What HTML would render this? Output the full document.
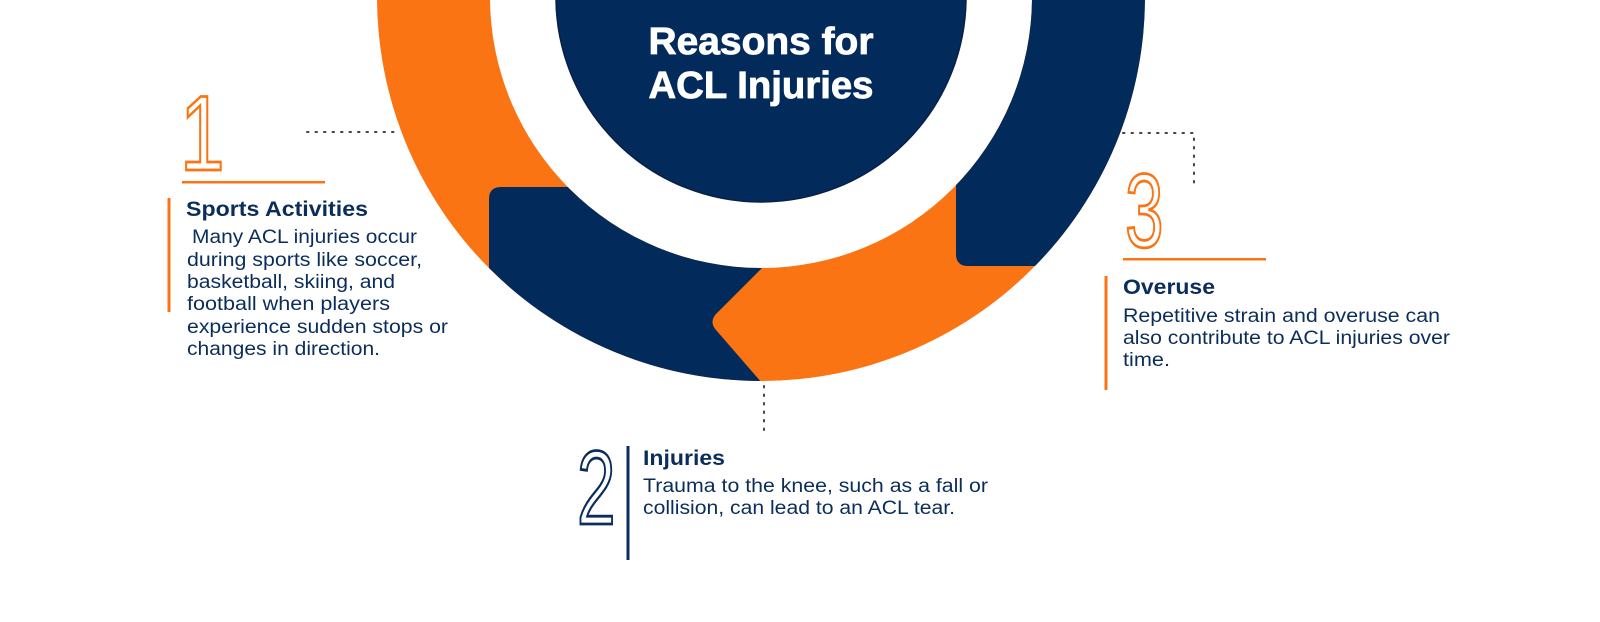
<!DOCTYPE html>
<html><head><meta charset="utf-8"><style>
html,body{margin:0;padding:0;background:#fff;width:1600px;height:622px;overflow:hidden}
svg{display:block}
.t{font-family:"Liberation Sans",sans-serif;font-weight:bold;fill:#0b2d5b;font-size:21.5px}
.b{font-family:"Liberation Sans",sans-serif;fill:#0b2d5b;font-size:19px}
.n{font-family:"Liberation Sans",sans-serif;fill:#fff;stroke-width:2.4px}
</style></head><body>
<svg width="1600" height="622" viewBox="0 0 1600 622" xmlns="http://www.w3.org/2000/svg">
<defs>
<clipPath id="ring"><path fill-rule="evenodd" clip-rule="evenodd" d="M377,-3 A384,384 0 1 0 1145,-3 A384,384 0 1 0 377,-3 Z M490,-3 A271,271 0 1 1 1032,-3 A271,271 0 1 1 490,-3 Z"/></clipPath>
</defs>
<g clip-path="url(#ring)">
<rect x="300" y="-10" width="900" height="420" fill="#fb7414"/>
<path d="M956,-10 L1200,-10 L1200,266 L968,266 Q956,266 956,254 Z" fill="#022b5c"/>
<path d="M489,199 Q489,187 501,187 L790,187 L762,268 L716,314 Q709,322 716,330 L762,383 L489,420 Z" fill="#022b5c"/>
</g>
<circle cx="761" cy="-3" r="205" fill="#022b5c" stroke="#0a1f45" stroke-width="1.5"/>
<text x="761" y="54" text-anchor="middle" class="t" style="fill:#fff;font-size:38px;stroke:#fff;stroke-width:0.8px" textLength="225" lengthAdjust="spacingAndGlyphs">Reasons for</text>
<text x="761" y="98" text-anchor="middle" class="t" style="fill:#fff;font-size:38px;stroke:#fff;stroke-width:0.8px" textLength="225" lengthAdjust="spacingAndGlyphs">ACL Injuries</text>

<line x1="307" y1="132" x2="400" y2="132" stroke="#444" stroke-width="2" stroke-dasharray="1.5 7" stroke-linecap="round"/>
<path d="M1123,133 L1194,133 L1194,188" fill="none" stroke="#444" stroke-width="2" stroke-dasharray="1.5 7" stroke-linecap="round"/>
<line x1="764" y1="386" x2="764" y2="432" stroke="#444" stroke-width="2" stroke-dasharray="1.5 7" stroke-linecap="round"/>

<text class="n" x="0" y="0" font-size="107" stroke="#fb7414" transform="translate(180,170) scale(0.75,1)" vector-effect="non-scaling-stroke">1</text>
<rect x="182" y="181" width="143" height="2.5" fill="#fb7414"/>
<rect x="167.5" y="198" width="3" height="114" fill="#fb7414"/>
<text class="t" x="186" y="216" textLength="182" lengthAdjust="spacingAndGlyphs">Sports Activities</text>
<text class="b" x="192" y="243" textLength="225" lengthAdjust="spacingAndGlyphs">Many ACL injuries occur</text>
<text class="b" x="187" y="266" textLength="235" lengthAdjust="spacingAndGlyphs">during sports like soccer,</text>
<text class="b" x="187" y="288" textLength="208" lengthAdjust="spacingAndGlyphs">basketball, skiing, and</text>
<text class="b" x="187" y="310" textLength="203" lengthAdjust="spacingAndGlyphs">football when players</text>
<text class="b" x="187" y="333" textLength="261" lengthAdjust="spacingAndGlyphs">experience sudden stops or</text>
<text class="b" x="187" y="355" textLength="193" lengthAdjust="spacingAndGlyphs">changes in direction.</text>

<text class="n" x="0" y="0" font-size="105" stroke="#fb7414" transform="translate(1125,247) scale(0.66,1)" vector-effect="non-scaling-stroke">3</text>
<rect x="1123" y="258" width="143" height="2.5" fill="#fb7414"/>
<rect x="1104.5" y="276" width="3" height="114" fill="#fb7414"/>
<text class="t" x="1123" y="294" textLength="92" lengthAdjust="spacingAndGlyphs">Overuse</text>
<text class="b" x="1123" y="322" textLength="317" lengthAdjust="spacingAndGlyphs">Repetitive strain and overuse can</text>
<text class="b" x="1123" y="344" textLength="327" lengthAdjust="spacingAndGlyphs">also contribute to ACL injuries over</text>
<text class="b" x="1123" y="366" textLength="47" lengthAdjust="spacingAndGlyphs">time.</text>

<text class="n" x="0" y="0" font-size="105" stroke="#0b2d5b" transform="translate(577,524) scale(0.66,1)" vector-effect="non-scaling-stroke">2</text>
<rect x="626.5" y="446" width="3" height="114" fill="#0b2d5b"/>
<text class="t" x="643" y="465" textLength="82" lengthAdjust="spacingAndGlyphs">Injuries</text>
<text class="b" x="643" y="492" textLength="345" lengthAdjust="spacingAndGlyphs">Trauma to the knee, such as a fall or</text>
<text class="b" x="643" y="514" textLength="312" lengthAdjust="spacingAndGlyphs">collision, can lead to an ACL tear.</text>
</svg>
</body></html>
